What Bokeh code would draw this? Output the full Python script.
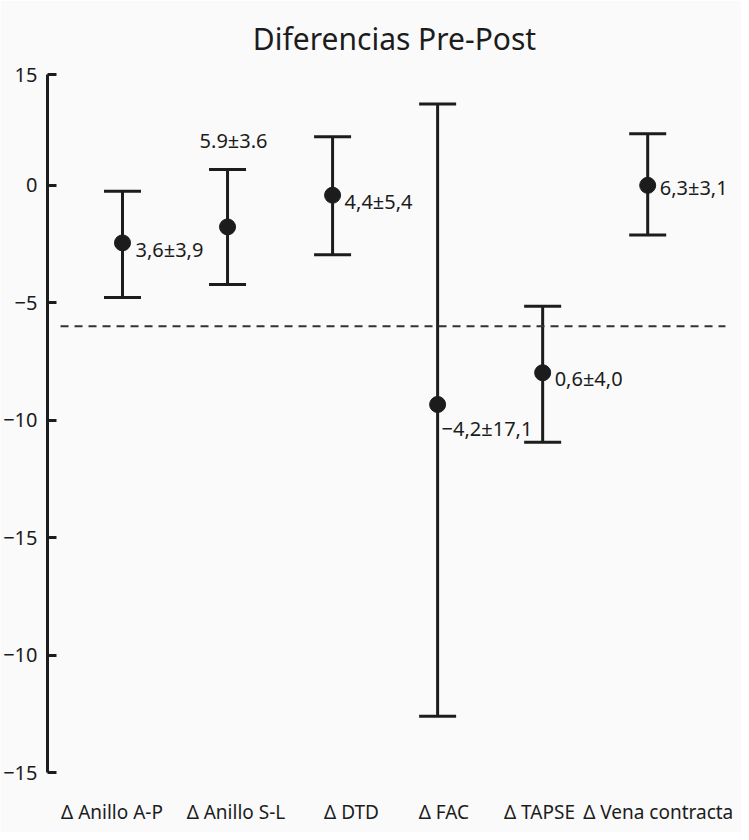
from bokeh.plotting import figure
from bokeh.models import (ColumnDataSource, Range1d, FixedTicker, Whisker, TeeHead, Label)
from bokeh.embed import file_html
from bokeh.resources import INLINE

# ---- data (y expressed on the drawn axis scale) ----
categories = ["Δ Anillo A-P", "Δ Anillo S-L", "Δ DTD", "Δ FAC", "Δ TAPSE", "Δ Vena contracta"]
means = [-2.45, -1.77, -0.42, -9.33, -7.98, 0.0]
upper = [-0.25, 0.68, 2.07, 3.46, -5.15, 2.2]
lower = [-4.77, -4.22, -2.96, -22.6, -10.94, -2.11]
annotations = ["3,6±3,9", "5.9±3.6", "4,4±5,4", "−4,2±17,1", "0,6±4,0", "6,3±3,1"]
ref_value = -6.0
y_tick_values = [4.7, 0, -5, -10, -15, -20, -25]
y_tick_labels = ["15", "0", "−5", "−10", "−15", "−10", "−15"]

# ---- layout / style ----
FONT = "Noto Sans"
INK = "#1c1c1c"
BG = "#fafafa"
label_pos = [0.9, 2.08, 3.18, 4.06, 4.97, 6.1]   # where the category names sit on the x scale
X_START, X_END = 0.286, 6.893
REF_X0, REF_X1 = 0.41, 6.74                       # horizontal extent of the dashed reference line

xs = list(range(1, len(categories) + 1))

p = figure(width=741, height=832, output_backend="svg", toolbar_location=None,
           x_range=Range1d(X_START, X_END), y_range=Range1d(-25, 4.72),
           title="Diferencias Pre-Post",
           min_border_left=38, min_border_right=0, min_border_top=69, min_border_bottom=60)
p.background_fill_color = BG
p.border_fill_color = BG
p.outline_line_color = None
p.xgrid.visible = False
p.ygrid.visible = False

p.title.text_font = FONT
p.title.text_font_size = "30px"
p.title.text_font_style = "normal"
p.title.text_color = INK
p.title.align = "center"
p.title.standoff = 31

# y axis
p.yaxis.ticker = FixedTicker(ticks=y_tick_values)
p.yaxis.major_label_overrides = {v: l for v, l in zip(y_tick_values, y_tick_labels)}
p.yaxis.axis_line_width = 3
p.yaxis.axis_line_color = INK
p.yaxis.major_tick_line_width = 3
p.yaxis.major_tick_line_color = INK
p.yaxis.major_tick_in = 9
p.yaxis.major_tick_out = 0
p.yaxis.minor_tick_line_color = None
p.yaxis.major_label_standoff = 10
p.yaxis.major_label_text_font = FONT
p.yaxis.major_label_text_font_size = "20px"
p.yaxis.major_label_text_color = INK

# x axis
p.xaxis.ticker = FixedTicker(ticks=label_pos)
p.xaxis.major_label_overrides = {x: c for x, c in zip(label_pos, categories)}
p.xaxis.axis_line_color = None
p.xaxis.major_tick_line_color = None
p.xaxis.minor_tick_line_color = None
p.xaxis.major_label_standoff = 20
p.xaxis.major_label_text_font = FONT
p.xaxis.major_label_text_font_size = "19px"
p.xaxis.major_label_text_color = INK

# reference dashed line
p.segment(x0=[REF_X0], x1=[REF_X1], y0=[ref_value], y1=[ref_value],
          line_color="#333333", line_width=2, line_dash="8 6")

src = ColumnDataSource(dict(x=xs, mean=means, upper=upper, lower=lower, label=annotations))

w = Whisker(base="x", upper="upper", lower="lower", source=src,
            line_width=3, line_color=INK,
            upper_head=TeeHead(size=37, line_width=3, line_color=INK),
            lower_head=TeeHead(size=37, line_width=3, line_color=INK))
p.add_layout(w)

p.scatter("x", "mean", source=src, size=16, color=INK)

# annotation text positions (style offsets, pixels)
x_off = [13, 0, 12, 4, 12, 12]
y_off = [-7, 0, -6, -24, -6, -2]
for i in range(len(xs)):
    if i == 1:
        lab = Label(x=xs[i], y=upper[i], text=annotations[i], x_offset=6, y_offset=29,
                    text_align="center", text_baseline="middle",
                    text_font=FONT, text_font_size="20px", text_color=INK)
    else:
        lab = Label(x=xs[i], y=means[i], text=annotations[i], x_offset=x_off[i], y_offset=y_off[i],
                    text_align="left", text_baseline="middle",
                    text_font=FONT, text_font_size="20px", text_color=INK)
    p.add_layout(lab)

open("out.html", "w").write(file_html(p, INLINE))
